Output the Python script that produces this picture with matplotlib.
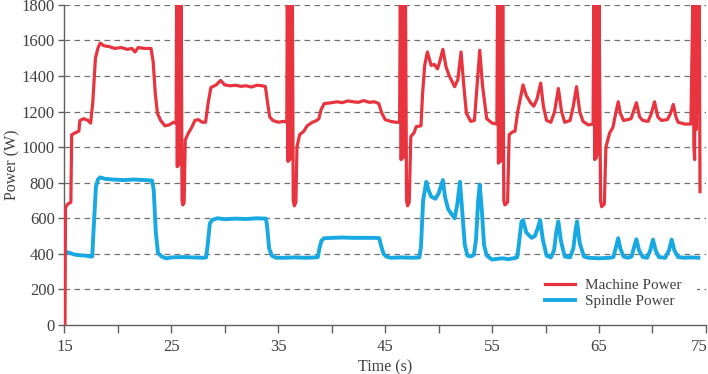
import matplotlib
matplotlib.use('Agg')
import matplotlib.pyplot as plt
from matplotlib.transforms import ScaledTranslation

# machine power trace (time in s, power in W)
machine_t = [15.05, 15.1, 15.3, 15.6, 15.68, 16.0, 16.35, 16.45, 16.8, 17.2, 17.45, 17.65, 17.9, 18.15, 18.35,
             18.7, 19.2, 19.7, 20.3, 20.9, 21.3, 21.6, 21.9, 22.5, 23.1, 23.3, 23.5, 23.7, 24.0, 24.4, 24.8, 25.2,
             25.45, 25.5, 25.56, 25.62, 25.7, 25.78, 25.85, 25.92, 26.0, 26.08, 26.2, 26.3, 26.6, 26.9, 27.2, 27.5,
             27.9, 28.2, 28.45, 28.7, 29.2, 29.6, 30.0, 30.5, 31.0, 31.5, 32.0, 32.5, 33.0, 33.5, 33.8, 34.0, 34.2,
             34.5, 35.0, 35.5, 35.8,
             35.85, 35.92, 36.0, 36.08, 36.16, 36.24, 36.32, 36.4, 36.5, 36.65, 36.75, 37.0, 37.4, 37.7, 38.2, 38.6,
             38.8, 39.0, 39.3, 40.0, 40.5, 41.0, 41.5, 42.0, 42.5, 43.0, 43.5, 44.0, 44.4, 44.7, 45.0, 45.5, 46.0,
             46.35,
             46.42, 46.5, 46.58, 46.66, 46.74, 46.82, 46.9, 47.0, 47.1, 47.25, 47.4, 47.7, 47.9, 48.35, 48.5, 48.7,
             48.95, 49.3, 49.6, 49.9, 50.1, 50.4, 50.7, 51.0, 51.5, 51.8, 52.1, 52.35, 52.6, 53.0, 53.35, 53.6,
             53.85, 54.1, 54.5, 55.0, 55.45,
             55.52, 55.6, 55.68, 55.76, 55.84, 55.92, 56.0, 56.1, 56.2, 56.45, 56.6, 56.9, 57.15, 57.4, 57.9, 58.2,
             58.6, 58.9, 59.2, 59.55, 59.8, 60.1, 60.5, 60.85, 61.2, 61.5, 61.8, 62.3, 62.6, 62.9, 63.2, 63.5, 64.0,
             64.45,
             64.52, 64.6, 64.68, 64.76, 64.84, 64.92, 65.0, 65.15, 65.25, 65.5, 65.65, 66.0, 66.3, 66.6, 66.8, 67.0,
             67.3, 67.7, 68.0, 68.5, 68.8, 69.1, 69.6, 69.9, 70.2, 70.5, 70.85, 71.4, 71.7, 71.95, 72.2, 72.4, 73.0,
             73.6,
             73.8, 73.88, 73.95, 74.02, 74.1, 74.18, 74.3, 74.38, 74.45]
machine_p = [0, 660, 680, 690, 1070, 1080, 1090, 1150, 1160, 1150, 1135, 1250, 1500, 1560, 1585,
             1570, 1565, 1555, 1560, 1550, 1555, 1535, 1560, 1555, 1555, 1480, 1300, 1190, 1150, 1120, 1125, 1140,
             1135, 1900, 890, 1900, 900, 1900, 950, 1900, 700, 675, 690, 1040, 1080, 1110, 1150, 1155,
             1140, 1140, 1250, 1335, 1350, 1375, 1350, 1345, 1348, 1342, 1345, 1338, 1348, 1345, 1340, 1250, 1170,
             1150, 1140, 1145, 1140,
             1900, 920, 1900, 930, 1900, 950, 1900, 700, 670, 690, 1000, 1070, 1090, 1120, 1140, 1150,
             1160, 1210, 1245, 1250, 1255, 1250, 1260, 1255, 1252, 1262, 1252, 1255, 1245, 1190, 1155, 1145, 1140,
             1140,
             1900, 930, 1900, 940, 1900, 960, 1900, 700, 670, 690, 1060, 1080, 1115, 1120, 1300, 1460,
             1535, 1460, 1465, 1440, 1480, 1550, 1450, 1400, 1340, 1380, 1535, 1350, 1190, 1145, 1150, 1350,
             1545, 1350, 1160, 1135, 1130,
             1900, 910, 1900, 920, 1900, 940, 1900, 700, 675, 690, 1070, 1085, 1090, 1200, 1350, 1290,
             1250, 1230, 1270, 1360, 1230, 1150, 1140, 1200, 1330, 1200, 1140, 1150, 1230, 1340, 1200, 1145, 1125,
             1130,
             1900, 930, 1900, 940, 1900, 960, 1900, 700, 665, 680, 1000, 1080, 1110, 1200, 1255, 1190,
             1150, 1155, 1160, 1250, 1170, 1150, 1145, 1190, 1255, 1170, 1150, 1155, 1190, 1240, 1170, 1140, 1130,
             1130,
             1900, 1000, 930, 1900, 1100, 1900, 1200, 1900, 750]

# spindle power trace
spindle_t = [15.2, 15.5, 16.0, 16.5, 17.0, 17.45, 17.6, 17.75, 17.95, 18.15, 18.35, 18.8, 19.5, 20.5, 21.5, 22.5,
             23.2, 23.35, 23.55, 23.75, 24.1, 24.5, 25.0, 26.0, 27.0, 28.0, 28.25, 28.4, 28.6, 28.8, 29.3, 30.0,
             31.0, 32.0, 33.0, 33.85, 33.95, 34.15, 34.4, 34.8, 35.5, 36.5, 37.5, 38.5, 38.7, 38.85, 39.05, 39.3,
             40.0, 41.0, 42.0, 43.0, 44.0, 44.45, 44.6, 44.85, 45.1, 45.5, 46.5, 47.5, 48.2, 48.35, 48.55, 48.85,
             49.05, 49.3, 49.7, 50.0, 50.4, 50.6, 50.9, 51.2, 51.5, 51.75, 52.0, 52.2, 52.45, 52.7, 53.0, 53.3,
             53.5, 53.7, 53.85, 54.05, 54.25, 54.5, 55.0, 55.5, 56.0, 56.5, 57.0, 57.35, 57.5, 57.75, 57.9, 58.2,
             58.7, 59.0, 59.25, 59.5, 59.75, 60.1, 60.5, 60.8, 61.0, 61.2, 61.45, 61.8, 62.3, 62.6, 62.8, 62.95,
             63.2, 63.6, 64.0, 65.0, 66.0, 66.35, 66.55, 66.8, 67.0, 67.3, 67.7, 68.05, 68.25, 68.5, 68.75, 69.1,
             69.5, 69.8, 70.05, 70.3, 70.6, 71.2, 71.55, 71.8, 72.05, 72.4, 73.0, 73.6, 74.3]
spindle_p = [410, 405, 395, 392, 390, 385, 385, 560, 780, 820, 830, 822, 818, 815, 818, 815,
             812, 760, 520, 405, 385, 375, 380, 382, 380, 378, 380, 450, 570, 590, 600, 595,
             598, 596, 600, 598, 560, 430, 390, 378, 378, 380, 378, 380, 382, 430, 475, 488,
             490, 492, 490, 490, 490, 488, 450, 400, 385, 378, 380, 378, 380, 440, 700, 805,
             760, 722, 710, 740, 815, 720, 650, 625, 600, 680, 805, 650, 450, 390, 385, 395,
             480, 700, 790, 640, 450, 390, 368, 372, 375, 370, 375, 380, 450, 580, 590, 520,
             490, 500, 540, 590, 480, 390, 380, 420, 520, 582, 470, 385, 380, 430, 530, 582,
             460, 385, 378, 375, 378, 382, 430, 488, 430, 385, 378, 385, 430, 482, 420, 382,
             378, 420, 480, 420, 382, 378, 420, 480, 420, 382, 378, 380, 378]

x_ticks = [15, 20, 25, 30, 35, 40, 45, 50, 55, 60, 65, 70, 75]
x_labels = ['15', '', '25', '', '35', '', '45', '', '55', '', '65', '', '75']
y_ticks = [0, 200, 400, 600, 800, 1000, 1200, 1400, 1600, 1800]

plt.rcParams['font.family'] = ['Liberation Serif', 'DejaVu Serif']
text_col = '#404040'

fig = plt.figure(figsize=(7.08, 3.74), dpi=100)
ax = fig.add_axes([0.091, 0.131, 0.906, 0.856])

for y in y_ticks[1:]:
    ax.axhline(y, color='#707070', lw=0.9, ls=(0, (4.5, 3.5)), zorder=0)

ax.plot(machine_t, machine_p, color='#e8343e', lw=2.3, label='Machine Power', zorder=3,
        solid_joinstyle='round')
ax.plot(spindle_t, spindle_p, color='#19a9e2', lw=2.8, label='Spindle Power', zorder=2,
        solid_joinstyle='round')

ax.set_xlim(15, 75)
ax.set_ylim(0, 1800)
ax.set_xticks(x_ticks)
ax.set_xticklabels(x_labels)
ax.set_yticks(y_ticks)

for s in ['top', 'right']:
    ax.spines[s].set_visible(False)
for s in ['left', 'bottom']:
    ax.spines[s].set_color('#606060')
    ax.spines[s].set_linewidth(1.0)

ax.tick_params(axis='x', length=6, width=1.0, color='#606060', labelsize=12, labelcolor=text_col, pad=4)
ax.tick_params(axis='y', length=4, width=1.0, color='#606060', labelsize=12, labelcolor=text_col, pad=3)

# keep the last tick label inside the canvas
last = ax.get_xticklabels()[-1]
last.set_transform(last.get_transform() + ScaledTranslation(-7 / 100, 0, fig.dpi_scale_trans))

ax.set_xlabel('Time (s)', fontsize=11.5, color=text_col, labelpad=3)
ax.set_ylabel('Power (W)', fontsize=11.5, color=text_col, labelpad=0.5)

leg = ax.legend(loc='center left', bbox_to_anchor=(0.725, 0.098), borderaxespad=0, borderpad=1.0,
                fontsize=11, frameon=True, edgecolor='none', facecolor='white', framealpha=1,
                labelspacing=0.15, handlelength=2.0, handletextpad=0.65, fancybox=False)
for t in leg.get_texts():
    t.set_color(text_col)

fig.savefig('out.png', dpi=100)
